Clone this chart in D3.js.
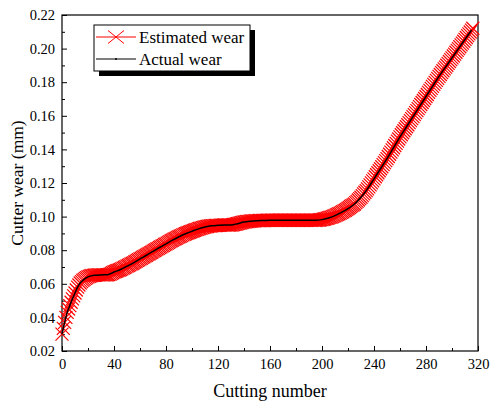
<!DOCTYPE html>
<meta charset="utf-8">
<style>
body { margin: 0; background: #fff; }
svg text { font-family: "Liberation Serif", "Times New Roman", "DejaVu Serif", serif !important; fill: #000; }
.tick text { font-size: 14.5px; }
</style>
<svg width="490" height="403"></svg>
<script src="https://d3js.org/d3.v7.min.js"></script>
<script>
// estimated wear, one value per cut (cut 0 .. 316)
var estimatedWear = [
  0.0300,0.0335,0.0370,0.0400,0.0430,0.0450,0.0470,0.0490,0.0510,0.0528,0.0545,
  0.0563,0.0580,0.0593,0.0605,0.0613,0.0620,0.0626,0.0632,0.0637,0.0641,
  0.0644,0.0647,0.0649,0.0650,0.0651,0.0652,0.0653,0.0653,0.0653,0.0653,
  0.0653,0.0653,0.0653,0.0653,0.0654,0.0655,0.0658,0.0662,0.0666,0.0670,
  0.0673,0.0676,0.0679,0.0682,0.0685,0.0689,0.0693,0.0697,0.0701,0.0705,
  0.0709,0.0713,0.0717,0.0721,0.0725,0.0730,0.0734,0.0739,0.0743,0.0748,
  0.0752,0.0757,0.0761,0.0766,0.0770,0.0775,0.0779,0.0784,0.0788,0.0793,
  0.0798,0.0802,0.0807,0.0811,0.0816,0.0820,0.0825,0.0829,0.0834,0.0838,
  0.0842,0.0847,0.0851,0.0856,0.0860,0.0864,0.0868,0.0872,0.0876,0.0880,
  0.0884,0.0887,0.0891,0.0894,0.0898,0.0901,0.0904,0.0907,0.0910,0.0913,
  0.0916,0.0919,0.0922,0.0924,0.0927,0.0929,0.0931,0.0934,0.0936,0.0938,
  0.0940,0.0941,0.0943,0.0944,0.0945,0.0946,0.0946,0.0947,0.0947,0.0948,
  0.0948,0.0949,0.0949,0.0950,0.0950,0.0950,0.0950,0.0950,0.0950,0.0950,
  0.0951,0.0953,0.0954,0.0956,0.0958,0.0960,0.0962,0.0964,0.0966,0.0968,
  0.0969,0.0970,0.0971,0.0972,0.0973,0.0974,0.0975,0.0975,0.0976,0.0976,
  0.0976,0.0977,0.0977,0.0977,0.0977,0.0977,0.0978,0.0978,0.0978,0.0978,
  0.0978,0.0978,0.0978,0.0978,0.0978,0.0978,0.0978,0.0978,0.0978,0.0978,
  0.0978,0.0978,0.0978,0.0978,0.0978,0.0978,0.0978,0.0978,0.0978,0.0978,
  0.0978,0.0978,0.0978,0.0978,0.0978,0.0978,0.0978,0.0978,0.0978,0.0978,
  0.0978,0.0978,0.0978,0.0978,0.0978,0.0978,0.0979,0.0980,0.0981,0.0982,
  0.0984,0.0986,0.0988,0.0990,0.0992,0.0995,0.0997,0.1000,0.1003,0.1006,
  0.1010,0.1013,0.1017,0.1021,0.1025,0.1029,0.1034,0.1038,0.1043,0.1048,
  0.1054,0.1060,0.1065,0.1070,0.1075,0.1083,0.1091,0.1099,0.1107,0.1115,
  0.1125,0.1135,0.1145,0.1155,0.1165,0.1177,0.1189,0.1201,0.1213,0.1225,
  0.1237,0.1249,0.1261,0.1273,0.1285,0.1297,0.1309,0.1321,0.1333,0.1345,
  0.1358,0.1371,0.1384,0.1397,0.1410,0.1423,0.1436,0.1449,0.1462,0.1475,
  0.1487,0.1499,0.1511,0.1523,0.1535,0.1547,0.1559,0.1571,0.1583,0.1595,
  0.1607,0.1619,0.1631,0.1643,0.1655,0.1667,0.1679,0.1691,0.1703,0.1715,
  0.1727,0.1739,0.1751,0.1763,0.1775,0.1787,0.1799,0.1811,0.1823,0.1835,
  0.1846,0.1857,0.1868,0.1879,0.1890,0.1901,0.1912,0.1923,0.1934,0.1945,
  0.1956,0.1967,0.1978,0.1989,0.2000,0.2011,0.2022,0.2033,0.2044,0.2055,
  0.2066,0.2077,0.2088,0.2099,0.2110,0.2121
];

// actual wear, sampled cuts
var actualCuts = [0,2,4,6,8,10,12,14,16,18,20,25,30,35,40,45,50,55,60,65,70,75,80,85,90,95,100,
  105,110,115,120,125,130,135,140,145,150,155,160,170,180,190,195,200,205,210,215,220,225,
  230,235,240,245,250,255,260,265,270,275,280,285,290,295,300,305,310,315];
var actualWear = [0.0300,0.0370,0.0430,0.0470,0.0510,0.0545,0.0580,0.0605,0.0620,0.0632,0.0641,
  0.0651,0.0653,0.0654,0.0670,0.0685,0.0705,0.0725,0.0748,0.0770,0.0793,0.0816,0.0838,0.0860,
  0.0880,0.0898,0.0913,0.0927,0.0938,0.0945,0.0948,0.0950,0.0950,0.0958,0.0968,0.0973,0.0976,
  0.0977,0.0978,0.0978,0.0978,0.0978,0.0978,0.0982,0.0992,0.1006,0.1025,0.1048,0.1075,
  0.1115,0.1165,0.1225,0.1285,0.1345,0.1410,0.1475,0.1535,0.1595,0.1655,0.1715,0.1775,
  0.1835,0.1890,0.1945,0.2000,0.2055,0.2110];

var xTicks = [0,40,80,120,160,200,240,280,320];
var yTicks = [0.02,0.04,0.06,0.08,0.10,0.12,0.14,0.16,0.18,0.20,0.22];
var seriesNames = ["Estimated wear","Actual wear"];

var FONT = "'Liberation Serif', 'Times New Roman', serif";
var svg = d3.select("svg");
var margin = {left: 62, right: 12, top: 15, bottom: 52};
var W = 490 - margin.left - margin.right,
    H = 403 - margin.top - margin.bottom;

var x = d3.scaleLinear().domain([0,320]).range([0,W]);
var y = d3.scaleLinear().domain([0.02,0.22]).range([H,0]);

var g = svg.append("g").attr("transform", "translate(" + margin.left + "," + margin.top + ")");

// minor ticks
var xMinor = d3.range(0, 321, 20).filter(d => xTicks.indexOf(d) < 0);
var yMinor = d3.range(0.03, 0.22, 0.02);

g.append("g").attr("transform", "translate(0," + H + ")")
  .call(d3.axisBottom(x).tickValues(xMinor).tickSize(-3).tickFormat(""))
  .call(a => a.select(".domain").remove());
g.append("g")
  .call(d3.axisLeft(y).tickValues(yMinor).tickSize(-3).tickFormat(""))
  .call(a => a.select(".domain").remove());

var xAxis = g.append("g").attr("transform", "translate(0," + H + ")")
  .call(d3.axisBottom(x).tickValues(xTicks).tickSize(-5).tickPadding(8).tickFormat(d3.format("d")));
xAxis.select(".domain").remove();
var yAxis = g.append("g")
  .call(d3.axisLeft(y).tickValues(yTicks).tickSize(-5).tickPadding(7).tickFormat(d3.format(".2f")));
yAxis.select(".domain").remove();
g.selectAll(".tick line").attr("stroke", "#000").attr("stroke-width", 1);
svg.selectAll("g").attr("font-family", FONT);

// frame
g.append("rect").attr("width", W).attr("height", H)
  .attr("fill", "none").attr("stroke", "#000").attr("stroke-width", 1.2);

// estimated wear: red line + X markers
var estLine = d3.line().x((d, i) => x(i)).y(d => y(d));
g.append("path").datum(estimatedWear)
  .attr("d", estLine).attr("fill", "none").attr("stroke", "#ff0000").attr("stroke-width", 1);

var m = 6.5;
function xMark(sel) {
  sel.append("path")
    .attr("d", "M" + (-m) + "," + (-m) + "L" + m + "," + m + "M" + (-m) + "," + m + "L" + m + "," + (-m))
    .attr("stroke", "#ff0000").attr("stroke-width", 1.2).attr("fill", "none");
}
g.append("g").selectAll("g").data(estimatedWear).join("g")
  .attr("transform", (d, i) => "translate(" + x(i) + "," + y(d) + ")")
  .call(xMark);

// actual wear: black line
var actLine = d3.line().curve(d3.curveMonotoneX).x((d, i) => x(actualCuts[i])).y(d => y(d));
g.append("path").datum(actualWear)
  .attr("d", actLine).attr("fill", "none").attr("stroke", "#000").attr("stroke-width", 1.5);

// axis titles
svg.append("text").attr("x", margin.left + W / 2).attr("y", 397)
  .attr("font-family", FONT)
  .attr("text-anchor", "middle").attr("font-size", 18).text("Cutting number");
svg.append("text").attr("transform", "translate(23," + (margin.top + H / 2) + ") rotate(-90)")
  .attr("font-family", FONT)
  .attr("text-anchor", "middle").attr("font-size", 17.5).text("Cutter wear (mm)");

// legend
var lg = svg.append("g").attr("transform", "translate(94,25)").attr("font-family", FONT);
lg.append("rect").attr("x", 5).attr("y", 5).attr("width", 156).attr("height", 46).attr("fill", "#000");
lg.append("rect").attr("width", 156).attr("height", 46).attr("fill", "#fff")
  .attr("stroke", "#000").attr("stroke-width", 1);
var items = lg.selectAll(".item").data(seriesNames).join("g")
  .attr("class", "item")
  .attr("transform", (d, i) => "translate(0," + (12 + i * 22) + ")");
items.append("line").attr("x1", 2).attr("x2", 42).attr("y1", 0).attr("y2", 0)
  .attr("stroke", (d, i) => i === 0 ? "#ff0000" : "#000").attr("stroke-width", 1);
items.filter((d, i) => i === 0).append("g").attr("transform", "translate(22,0)")
  .append("path").attr("d", "M-8,-6.5L8,6.5M-8,6.5L8,-6.5")
  .attr("stroke", "#ff0000").attr("stroke-width", 1).attr("fill", "none");
items.filter((d, i) => i === 1).append("circle").attr("cx", 22).attr("r", 1).attr("fill", "#000");
items.append("text").attr("x", 45).attr("y", 6).attr("font-size", 17).text(d => d);
</script>
